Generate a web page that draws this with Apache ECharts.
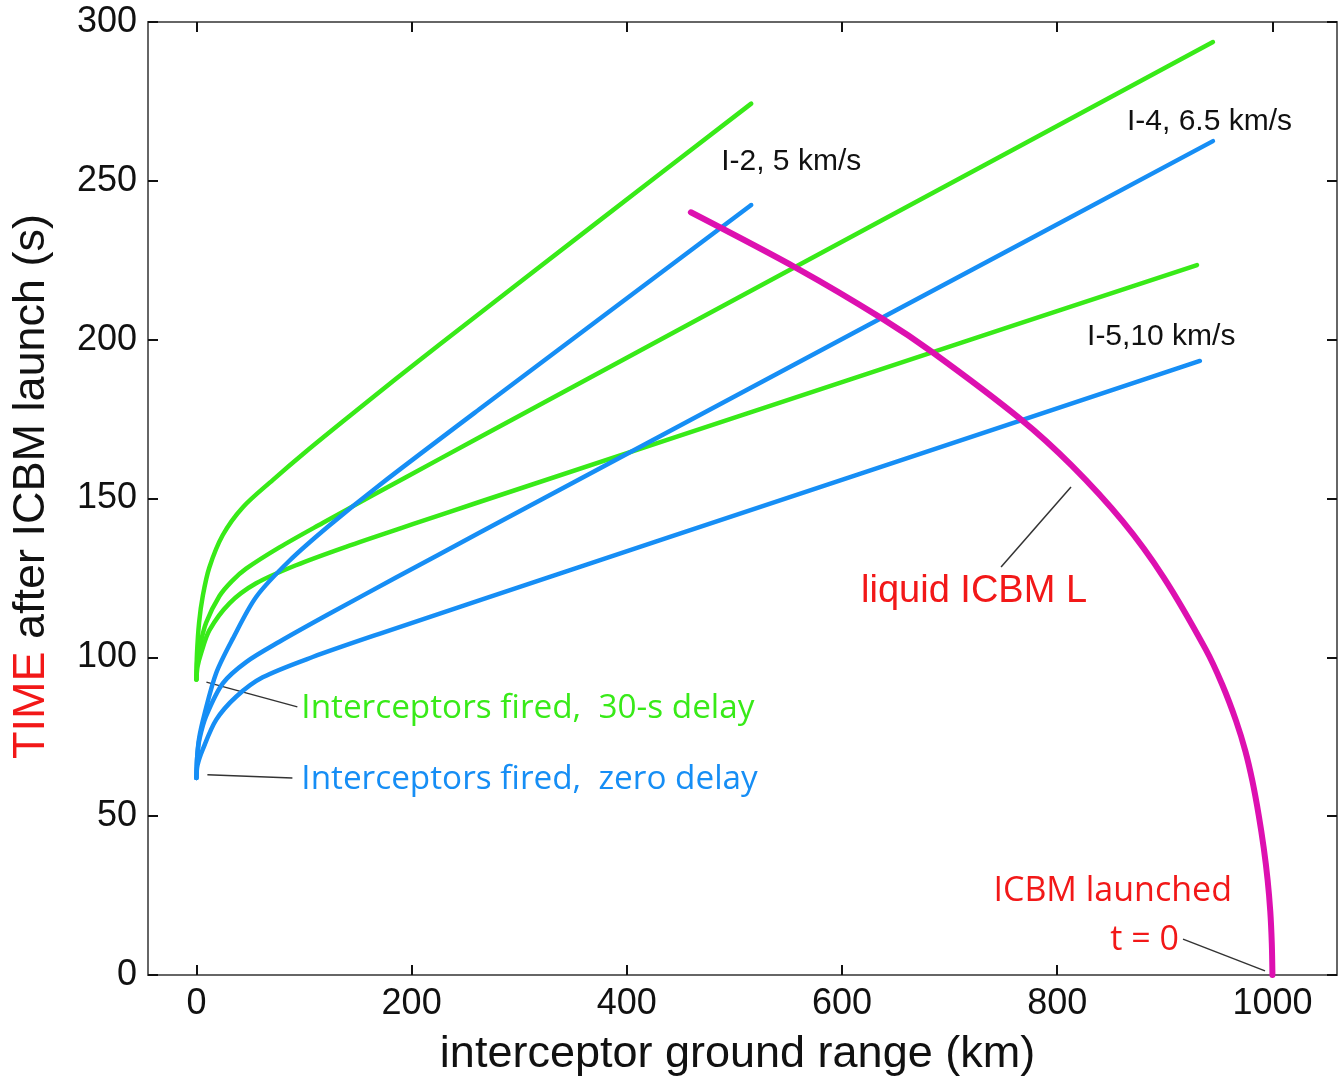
<!DOCTYPE html>
<html>
<head>
<meta charset="utf-8">
<title>Interceptor timing vs ground range</title>
<script src="https://cdn.jsdelivr.net/npm/echarts@6/dist/echarts.min.js"></script>
<style>
  html, body { margin: 0; padding: 0; background: #fff; }
  #chart { width: 1339px; height: 1080px; }
</style>
</head>
<body>
<div id="chart"></div>
<script>
// tick labels
const xTicks = [0, 200, 400, 600, 800, 1000];

// interceptors fired with 30-s delay  [range km, time s]
const green_I2 = [[0, 93], [0.5, 101], [2.5, 111], [6, 119.5], [12, 128.3], [24.5, 138.5], [43, 147.2],
  [70.9, 155.8], [101.9, 164.8], [142.1, 175.9], [185.5, 187.7], [225.7, 198.4], [370, 236.3], [515.6, 274.3]];
const green_I4 = [[0, 93], [0.8, 99], [3, 103.3], [9, 110.9], [21.4, 119.3], [33, 124], [46.2, 127.9],
  [77.1, 134.6], [117.3, 142.3], [163.8, 151], [225.7, 162.4], [299.8, 176], [634.5, 237.1], [944.7, 293.7]];
const green_I5 = [[0, 93], [1, 97], [4.3, 101.3], [12, 108.5], [30.7, 117], [55.5, 123.3], [92.6, 129],
  [139, 134.8], [201, 141.9], [262.9, 148.9], [634.5, 190.5], [929.9, 223.5]];

// interceptors fired with zero delay
const blue_I2 = [[0, 62], [0.6, 68], [2.5, 74.5], [7.4, 82], [18.3, 95], [33.7, 105.8], [55.5, 119],
  [86.4, 130.4], [123.5, 141.5], [170, 154.2], [262.9, 178.1], [515.6, 242.4]];
const blue_I4 = [[0, 62], [0.8, 69], [3, 74.5], [9, 81.5], [24.5, 91.8], [46.2, 98.5], [77.1, 104.9],
  [123.5, 113.7], [185.5, 125.1], [262.9, 139.2], [634.5, 206.4], [944.7, 262.5]];
const blue_I5 = [[0, 62], [1, 66], [5.9, 71], [18.3, 80.3], [36.9, 87.6], [61.6, 93.7], [108, 100.1],
  [170, 107.4], [262.9, 117.9], [615.9, 157.7], [932.6, 193.3]];

// liquid ICBM trajectory
const icbm = [[459.5, 240.1], [559, 222.3], [637, 206.7], [685, 195.8], [766.2, 174.9], [813.3, 160.4],
  [861.1, 142.7], [899, 125.1], [938, 102.5], [953.5, 91.3], [966.2, 80], [974.9, 70.4], [981.4, 61],
  [987.4, 50], [991.9, 40], [995.5, 30], [998, 20], [999.4, 10], [1000, 0]];

// leader lines for labels
const leaderGreen = [[9.3, 92.2], [93.8, 84.4]];
const leaderBlue = [[10.2, 63], [89.2, 62]];
const leaderIcbm = [[812.8, 153.6], [747.8, 128.4]];
const leaderLaunch = [[916.9, 11.3], [993.1, 1.3]];

const GREEN = '#38ea18';
const BLUE = '#168ef5';
const MAGENTA = '#dd10b0';
const RED = '#f21818';

const chart = echarts.init(document.getElementById('chart'));

const curve = (data, color, w) => ({
  type: 'line', data, smooth: 0.3, symbol: 'none', silent: true,
  lineStyle: { color, width: w || 4.5, cap: 'round' }, z: 3
});
const leader = (data) => ({
  type: 'line', data, symbol: 'none', silent: true,
  lineStyle: { color: '#333', width: 1.5 }, z: 2
});

const axisLineStyle = { color: '#666', width: 2 };
const tickStyle = { color: '#111', width: 2 };
const fmt = v => String(v);

chart.setOption({
  animation: false,
  backgroundColor: '#fff',
  grid: { left: 148, right: 2, top: 22, bottom: 105, outerBoundsMode: 'none' },
  xAxis: [{
    type: 'value', min: -45, max: 1060, position: 'bottom',
    axisLine: { show: true, onZero: false, lineStyle: axisLineStyle },
    axisTick: { show: true, inside: true, length: 10, customValues: xTicks, lineStyle: tickStyle },
    axisLabel: { customValues: xTicks, formatter: fmt, fontSize: 36, color: '#111', margin: 11, fontFamily: 'Liberation Sans' },
    splitLine: { show: false },
    name: 'interceptor ground range (km)', nameLocation: 'middle', nameGap: 57,
    nameTextStyle: { fontSize: 45, color: '#111', fontFamily: 'Liberation Sans', padding: [0, 10, 0, 0] }
  }, {
    type: 'value', min: -45, max: 1060, position: 'top',
    axisLine: { show: true, onZero: false, lineStyle: axisLineStyle },
    axisTick: { show: true, inside: true, length: 10, customValues: xTicks, lineStyle: tickStyle },
    axisLabel: { show: false }, splitLine: { show: false }
  }],
  yAxis: [{
    type: 'value', min: 0, max: 300, interval: 50, position: 'left',
    axisLine: { show: true, onZero: false, lineStyle: axisLineStyle },
    axisTick: { show: true, inside: true, length: 10, lineStyle: tickStyle },
    axisLabel: { formatter: fmt, fontSize: 36, color: '#111', margin: 11, fontFamily: 'Liberation Sans' },
    splitLine: { show: false },
    name: '{r|TIME} after ICBM launch (s)', nameLocation: 'middle', nameRotate: 90, nameGap: 94,
    nameTextStyle: {
      fontSize: 45, color: '#111', fontFamily: 'Liberation Sans', padding: [0, 0, 0, 24],
      rich: { r: { fontSize: 45, color: RED, fontFamily: 'Liberation Sans' } }
    }
  }, {
    type: 'value', min: 0, max: 300, interval: 50, position: 'right',
    axisLine: { show: true, onZero: false, lineStyle: axisLineStyle },
    axisTick: { show: true, inside: true, length: 10, lineStyle: tickStyle },
    axisLabel: { show: false }, splitLine: { show: false }
  }],
  series: [
    leader(leaderGreen), leader(leaderBlue), leader(leaderIcbm), leader(leaderLaunch),
    curve(green_I2, GREEN), curve(green_I4, GREEN), curve(green_I5, GREEN),
    curve(blue_I2, BLUE), curve(blue_I4, BLUE), curve(blue_I5, BLUE),
    curve(icbm, MAGENTA, 6)
  ]
});

// text annotations placed in data space
const notes = [
  { at: [487.7, 255.9], text: 'I-2, 5 km/s', color: '#111', size: 30, font: 'Liberation Sans', align: 'left' },
  { at: [864.8, 268.5], text: 'I-4, 6.5 km/s', color: '#111', size: 30, font: 'Liberation Sans', align: 'left' },
  { at: [827.7, 200.8], text: 'I-5,10 km/s', color: '#111', size: 30, font: 'Liberation Sans', align: 'left' },
  { at: [617.7, 120.6], text: 'liquid ICBM L', color: RED, size: 38, font: 'Liberation Sans', align: 'left' },
  { at: [962.4, 26.4], text: 'ICBM launched', color: RED, size: 34, font: 'Open Sans', align: 'right' },
  { at: [913.1, 11.0], text: 't = 0', color: RED, size: 34, font: 'Open Sans', align: 'right' },
  { at: [97.5, 84.0], text: 'Interceptors fired,  30-s delay', color: GREEN, size: 33.3, font: 'Open Sans', align: 'left' },
  { at: [97.5, 61.4], text: 'Interceptors fired,  zero delay', color: BLUE, size: 33.3, font: 'Open Sans', align: 'left' }
];

chart.setOption({
  graphic: notes.map(n => {
    const p = chart.convertToPixel({ xAxisIndex: 0, yAxisIndex: 0 }, n.at);
    return {
      type: 'text', x: p[0], y: p[1], z: 10, silent: true,
      style: {
        text: n.text, fill: n.color, fontSize: n.size, fontFamily: n.font,
        align: n.align, verticalAlign: 'middle'
      }
    };
  })
});
</script>
</body>
</html>
